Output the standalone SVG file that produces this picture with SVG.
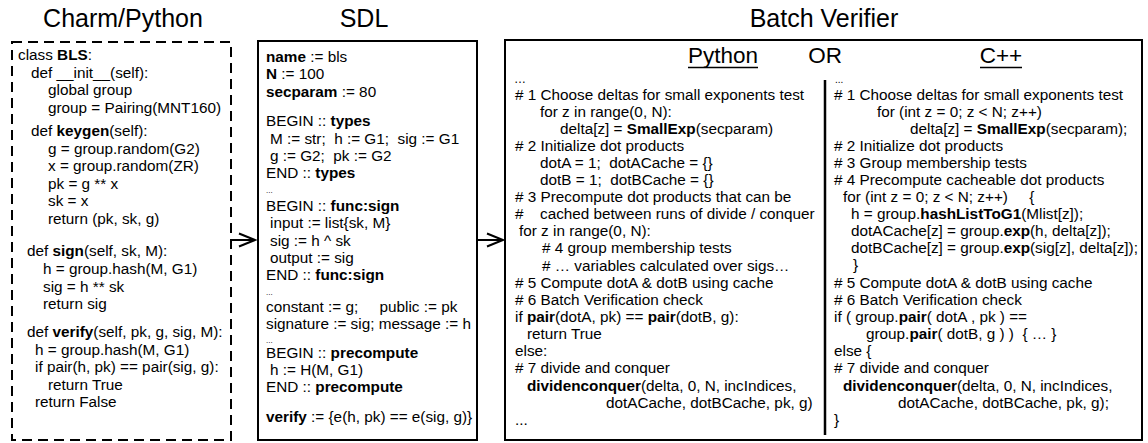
<svg xmlns="http://www.w3.org/2000/svg" width="1148" height="443" viewBox="0 0 1148 443">
<style>
text { font-family: "Liberation Sans", Arial, sans-serif; fill: #000; white-space: pre; }
.t { font-size: 15.3px; }
.h1 { font-size: 25px; text-anchor: middle; }
.h2 { font-size: 22.5px; text-anchor: middle; }
.b { font-weight: bold; }
.sm { font-size: 8px; }
.box { fill: #fff; stroke: #000; stroke-width: 2; }
.dash { fill: #fff; stroke: #000; stroke-width: 2; stroke-dasharray: 10 6; }
.con { fill: none; stroke: #000; stroke-width: 2; }
</style>
<rect width="1148" height="443" fill="#fff"/>

<g id="titles">
<text class="h1" x="123" y="27">Charm/Python</text>
<text class="h1" x="364" y="27">SDL</text>
<text class="h1" x="824" y="27">Batch Verifier</text>
</g>

<g id="charm">
<rect class="dash" x="12" y="42" width="219" height="398"/>
<text class="t" xml:space="preserve">
<tspan x="18" y="60">class <tspan class="b">BLS</tspan>:</tspan>
<tspan x="31" y="77.5">def __init__(self):</tspan>
<tspan x="48" y="95">global group</tspan>
<tspan x="48" y="112.5">group = Pairing(MNT160)</tspan>
<tspan x="31" y="136">def <tspan class="b">keygen</tspan>(self):</tspan>
<tspan x="48" y="153.5">g = group.random(G2)</tspan>
<tspan x="48" y="171">x = group.random(ZR)</tspan>
<tspan x="48" y="188.5">pk = g ** x</tspan>
<tspan x="48" y="206">sk = x</tspan>
<tspan x="48" y="223.5">return (pk, sk, g)</tspan>
<tspan x="27" y="256">def <tspan class="b">sign</tspan>(self, sk, M):</tspan>
<tspan x="43" y="274">h = group.hash(M, G1)</tspan>
<tspan x="43" y="291.5">sig = h ** sk</tspan>
<tspan x="43" y="309">return sig</tspan>
<tspan x="27" y="337">def <tspan class="b">verify</tspan>(self, pk, g, sig, M):</tspan>
<tspan x="35" y="354.5">h = group.hash(M, G1)</tspan>
<tspan x="35" y="372">if pair(h, pk) == pair(sig, g):</tspan>
<tspan x="48" y="389.5">return True</tspan>
<tspan x="35" y="407">return False</tspan>
</text>
</g>

<g id="sdl">
<rect class="box" x="258" y="41" width="219" height="399"/>
<text class="t" xml:space="preserve">
<tspan x="266" y="62"><tspan class="b">name</tspan> := bls</tspan>
<tspan x="266" y="79"><tspan class="b">N</tspan> := 100</tspan>
<tspan x="266" y="97"><tspan class="b">secparam</tspan> := 80</tspan>
<tspan x="266" y="126">BEGIN :: <tspan class="b">types</tspan></tspan>
<tspan x="270" y="144">M := str;  h := G1;  sig := G1</tspan>
<tspan x="270" y="161">g := G2;  pk := G2</tspan>
<tspan x="266" y="178">END :: <tspan class="b">types</tspan></tspan>
<tspan x="266" y="211">BEGIN :: <tspan class="b">func:sign</tspan></tspan>
<tspan x="270" y="228">input := list{sk, M}</tspan>
<tspan x="270" y="246">sig := h ^ sk</tspan>
<tspan x="270" y="263">output := sig</tspan>
<tspan x="266" y="280">END :: <tspan class="b">func:sign</tspan></tspan>
<tspan x="266" y="312">constant := g;     public := pk</tspan>
<tspan x="266" y="329">signature := sig; message := h</tspan>
<tspan x="266" y="358">BEGIN :: <tspan class="b">precompute</tspan></tspan>
<tspan x="270" y="375">h := H(M, G1)</tspan>
<tspan x="266" y="392">END :: <tspan class="b">precompute</tspan></tspan>
<tspan x="266" y="422"><tspan class="b">verify</tspan> := {e(h, pk) == e(sig, g)}</tspan>
</text>
<text class="sm" x="266" y="193">...</text>
<text class="sm" x="266" y="295">...</text>
<text class="sm" x="266" y="343">...</text>
</g>

<g id="batch">
<rect class="box" x="505" y="40" width="637" height="400"/>
<text class="h2" x="723" y="63">Python</text>
<text class="h2" x="825" y="63">OR</text>
<text class="h2" x="1001" y="63">C++</text>
<line x1="688" y1="67.5" x2="758" y2="67.5" stroke="#000" stroke-width="1.5"/>
<line x1="980" y1="67.5" x2="1022" y2="67.5" stroke="#000" stroke-width="1.5"/>
<line x1="825" y1="80" x2="825" y2="435" stroke="#000" stroke-width="2.5"/>
<text x="514" y="83" style="font-size:12px">…</text>
<text class="t" xml:space="preserve">
<tspan x="515" y="100"># 1 Choose deltas for small exponents test</tspan>
<tspan x="540" y="117">for z in range(0, N):</tspan>
<tspan x="560" y="134">delta[z] = <tspan class="b">SmallExp</tspan>(secparam)</tspan>
<tspan x="515" y="151"># 2 Initialize dot products</tspan>
<tspan x="540" y="168">dotA = 1;  dotACache = {}</tspan>
<tspan x="540" y="185">dotB = 1;  dotBCache = {}</tspan>
<tspan x="515" y="202"># 3 Precompute dot products that can be</tspan>
<tspan x="515" y="219">#</tspan><tspan x="540" y="219">cached between runs of divide / conquer</tspan>
<tspan x="519" y="236">for z in range(0, N):</tspan>
<tspan x="542" y="253"># 4 group membership tests</tspan>
<tspan x="542" y="271"># … variables calculated over sigs…</tspan>
<tspan x="515" y="288"># 5 Compute dotA &amp; dotB using cache</tspan>
<tspan x="515" y="305"># 6 Batch Verification check</tspan>
<tspan x="515" y="322">if <tspan class="b">pair</tspan>(dotA, pk) == <tspan class="b">pair</tspan>(dotB, g):</tspan>
<tspan x="527" y="339">return True</tspan>
<tspan x="515" y="356">else:</tspan>
<tspan x="515" y="373"># 7 divide and conquer</tspan>
<tspan x="527" y="391"><tspan class="b">dividenconquer</tspan>(delta, 0, N, incIndices,</tspan>
<tspan x="606" y="408">dotACache, dotBCache, pk, g)</tspan>
<tspan x="515" y="425">...</tspan>
</text>
<text x="835" y="83" style="font-size:10px">...</text>
<text class="t" xml:space="preserve">
<tspan x="834" y="100"># 1 Choose deltas for small exponents test</tspan>
<tspan x="877" y="117">for (int z = 0; z &lt; N; z++)</tspan>
<tspan x="910" y="134">delta[z] = <tspan class="b">SmallExp</tspan>(secparam);</tspan>
<tspan x="834" y="151"># 2 Initialize dot products</tspan>
<tspan x="834" y="168"># 3 Group membership tests</tspan>
<tspan x="834" y="185"># 4 Precompute cacheable dot products</tspan>
<tspan x="843" y="202">for (int z = 0; z &lt; N; z++)     {</tspan>
<tspan x="851" y="219">h = group.<tspan class="b">hashListToG1</tspan>(Mlist[z]);</tspan>
<tspan x="851" y="236">dotACache[z] = group.<tspan class="b">exp</tspan>(h, delta[z]);</tspan>
<tspan x="851" y="253">dotBCache[z] = group.<tspan class="b">exp</tspan>(sig[z], delta[z]);</tspan>
<tspan x="853" y="270">}</tspan>
<tspan x="834" y="288"># 5 Compute dotA &amp; dotB using cache</tspan>
<tspan x="834" y="305"># 6 Batch Verification check</tspan>
<tspan x="834" y="322">if ( group.<tspan class="b">pair</tspan>( dotA , pk ) ==</tspan>
<tspan x="866" y="339">group.<tspan class="b">pair</tspan>( dotB, g ) )  { … }</tspan>
<tspan x="834" y="356">else {</tspan>
<tspan x="834" y="373"># 7 divide and conquer</tspan>
<tspan x="843" y="391"><tspan class="b">dividenconquer</tspan>(delta, 0, N, incIndices,</tspan>
<tspan x="898" y="408">dotACache, dotBCache, pk, g);</tspan>
<tspan x="834" y="425">}</tspan>
</text>
</g>

<g id="connectors">
<path class="con" d="M232,240 H255 M239,233.5 L255,240 L239,246.5"/>
<path class="con" d="M478,240 H503 M487,233.5 L503,240 L487,246.5"/>
</g>
</svg>
